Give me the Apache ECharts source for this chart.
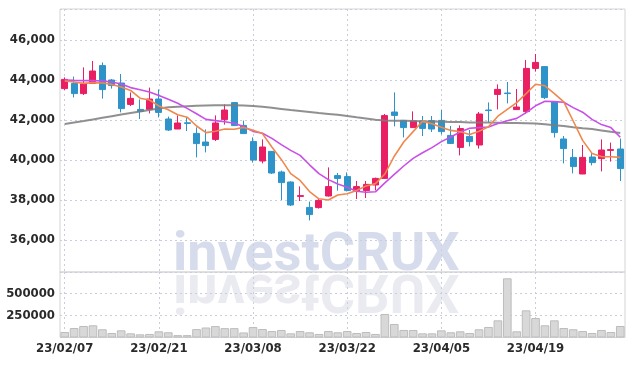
<!DOCTYPE html>
<html>
<head>
<meta charset="utf-8">
<script src="https://cdn.jsdelivr.net/npm/echarts@6/dist/echarts.min.js"></script>
<style>
html,body{margin:0;padding:0;background:#fff;}
#myChart{width:634px;height:366px;}
</style>
</head>
<body>
<div id="myChart"></div>
<script>
var dates=['23/02/07','23/02/08','23/02/09','23/02/10','23/02/13','23/02/14','23/02/15','23/02/16','23/02/17','23/02/20',
	'23/02/21','23/02/22','23/02/23','23/02/24','23/02/27','23/02/28','23/03/02','23/03/03','23/03/06','23/03/07',
	'23/03/08','23/03/09','23/03/10','23/03/13','23/03/14','23/03/15','23/03/16','23/03/17','23/03/20','23/03/21',
	'23/03/22','23/03/23','23/03/24','23/03/27','23/03/28','23/03/29','23/03/30','23/03/31','23/04/03','23/04/04',
	'23/04/05','23/04/06','23/04/07','23/04/10','23/04/11','23/04/12','23/04/13','23/04/14','23/04/17','23/04/18',
	'23/04/19','23/04/20','23/04/21','23/04/24','23/04/25','23/04/26','23/04/27','23/04/28','23/05/02','23/05/03'];
var opens=[43570,43830,43320,43830,44720,44000,43850,42780,42530,42530,
	43050,42050,41550,41860,41330,40900,41030,42020,42870,41730,
	40920,39950,40430,39400,38900,38180,37630,37620,38200,39220,
	39170,38430,38470,38750,39080,42400,41980,41620,41950,41970,
	41980,41230,40630,41180,40750,42500,43280,43350,42520,42420,
	44580,44670,42920,41050,40130,39300,40150,40070,40480,40550];
var closes=[44030,43320,43800,44450,43520,43720,42570,43080,42430,43050,
	42380,41500,41850,41830,40820,40720,41850,42500,41720,41320,
	40000,40650,39350,38870,37750,38220,37270,37980,38670,39080,
	38470,38670,38780,39080,42220,42230,41620,41950,41580,41550,
	41420,40830,41570,40920,42300,42470,43530,43320,42650,44580,
	44880,43120,41370,40570,39670,40130,39870,40500,40520,39570];
var lows=[43500,43130,43250,43830,43070,43570,42380,42700,42050,42330,
	42130,41450,41550,41450,40130,40380,40950,41770,41700,41300,
	39870,39830,39300,38000,37700,37950,36980,37570,38170,38470,
	38430,38050,38100,38480,39050,41680,41130,41600,41200,41400,
	41280,40800,40230,40680,40570,41880,42530,42830,42500,42300,
	44420,43050,41120,39830,39330,39300,39730,39430,39920,38950];
var highs=[44130,44170,44630,44950,44880,44050,44300,43380,43030,43620,
	43530,42170,42230,42150,41630,41530,42230,42780,42900,41970,
	41130,41030,40450,39470,38930,38680,37920,38070,39630,39350,
	39380,38950,38950,39120,42300,43380,42000,42430,42200,42200,
	42500,41700,41730,41500,42400,42880,43780,43900,43550,45000,
	45300,44700,42950,41200,40550,40750,40400,41030,40870,41070];
var ma5=[43950,43900,43830,43870,43850,43780,43650,43480,43090,43000,
	42700,42510,42260,42140,41700,41370,41440,41550,41540,41630,
	41490,41320,40650,40030,39320,38980,38420,38060,38000,38250,
	38310,38480,38700,38820,39300,40190,40900,41420,41930,41810,
	41640,41480,41410,41280,41440,41660,42190,42530,42870,43320,
	43790,43710,43320,42910,41950,40980,40330,40170,40160,40130];
var ma10=[44000,43980,43970,43970,43950,43900,43800,43620,43510,43400,
	43230,43040,42840,42580,42310,42030,41970,41910,41840,41670,
	41430,41340,41080,40770,40480,40230,39760,39320,39020,38800,
	38640,38440,38390,38410,38860,39280,39700,40080,40360,40620,
	40920,41150,41400,41590,41620,41650,41830,41960,42080,42370,
	42710,42940,42920,42890,42620,42390,42030,41770,41620,41140];
var maLong=[41800,41875,41950,42030,42110,42190,42270,42345,42420,42500,
	42570,42635,42665,42690,42710,42725,42735,42735,42735,42730,
	42700,42660,42610,42555,42500,42450,42400,42350,42305,42260,
	42200,42135,42075,42015,41980,41965,41960,41950,41935,41925,
	41915,41905,41895,41880,41875,41870,41860,41850,41845,41835,
	41825,41785,41740,41700,41640,41585,41550,41480,41410,41350];
var volumes=[62000,107000,130000,138000,93000,51000,81000,47000,36000,40000,
	70000,59000,27000,27000,95000,113000,129000,106000,106000,57000,
	118000,96000,73000,85000,47000,73000,59000,40000,73000,59000,
	73000,51000,62000,40000,266000,153000,85000,85000,47000,47000,
	81000,59000,70000,51000,93000,119000,194000,669000,70000,307000,
	220000,138000,194000,107000,93000,73000,51000,85000,62000,130000];

var myChart=echarts.init(document.getElementById('myChart'));

// 캔들 데이터 [open, close, low, high]
var kData=[];
for(var i=0;i<dates.length;i++){
	kData.push([opens[i],closes[i],lows[i],highs[i]]);
}

var labelFont="'DejaVu Sans Condensed','DejaVu Sans',sans-serif";
var labelStyle={margin:5,color:'#2a2a2a',fontSize:13,fontWeight:'bold',fontFamily:labelFont};
var gridLine={show:true,lineStyle:{color:'#c9cedd',type:[2,3],width:1}};
var vGridLine={show:true,interval:9,alignWithLabel:true,lineStyle:{color:'#c9cedd',type:[2,3],width:1}};
var wmText='investCRUX';

myChart.setOption({
	animation:false,
	grid:[
		{left:60,right:9,top:9,height:263,show:true,borderColor:'#d4d4d4',borderWidth:1},
		{left:60,right:9,top:272,height:65.5,show:true,borderColor:'#d4d4d4',borderWidth:1}
	],
	graphic:[
		{type:'text',x:173,y:272,silent:true,z:0,
			style:{text:wmText,x:0,y:11,font:'bold 54px Roboto',fill:'rgba(160,172,210,0.42)',align:'left',verticalAlign:'bottom'}},
		{type:'text',x:173,y:272,scaleY:-1,silent:true,z:0,
			style:{text:wmText,x:0,y:11,font:'bold 54px Roboto',fill:'rgba(180,180,205,0.28)',align:'left',verticalAlign:'bottom'}}
	],
	xAxis:[
		{type:'category',gridIndex:0,data:dates,boundaryGap:true,
			axisLine:{show:false},axisTick:{show:false},axisLabel:{show:false},
			splitLine:vGridLine},
		{type:'category',gridIndex:1,data:dates,boundaryGap:true,
			axisLine:{show:false},axisTick:{show:false},
			axisLabel:echarts.util.extend({interval:9},labelStyle),
			splitLine:vGridLine}
	],
	yAxis:[
		{type:'value',gridIndex:0,min:34400,max:47550,splitNumber:6,
			axisLine:{show:false},axisTick:{show:false},
			axisLabel:echarts.util.extend({showMinLabel:false,showMaxLabel:false,
				formatter:function(v){return v.toLocaleString('en-US');}},labelStyle),
			splitLine:gridLine},
		{type:'value',gridIndex:1,min:0,max:740000,interval:250000,
			axisLine:{show:false},axisTick:{show:false},
			axisLabel:echarts.util.extend({showMinLabel:false,showMaxLabel:false,
				formatter:function(v){return String(v);}},labelStyle),
			splitLine:gridLine}
	],
	series:[
		{name:'K',type:'candlestick',xAxisIndex:0,yAxisIndex:0,data:kData,barWidth:6.5,
			itemStyle:{color:'#e91e63',color0:'#2e93c9',borderColor:'#e91e63',borderColor0:'#2e93c9',borderWidth:1}},
		{name:'MA120',type:'line',xAxisIndex:0,yAxisIndex:0,data:maLong,symbol:'none',
			lineStyle:{color:'#7d7d7d',width:2,opacity:0.85}},
		{name:'MA10',type:'line',xAxisIndex:0,yAxisIndex:0,data:ma10,symbol:'none',
			lineStyle:{color:'#c94fe8',width:1.6}},
		{name:'MA5',type:'line',xAxisIndex:0,yAxisIndex:0,data:ma5,symbol:'none',
			lineStyle:{color:'#f0884e',width:1.6}},
		{name:'Volume',type:'bar',xAxisIndex:1,yAxisIndex:1,data:volumes,barWidth:'92%',
			itemStyle:{color:'#d8d8d8',borderColor:'#bdbdbd',borderWidth:1}}
	]
});
</script>
</body>
</html>
